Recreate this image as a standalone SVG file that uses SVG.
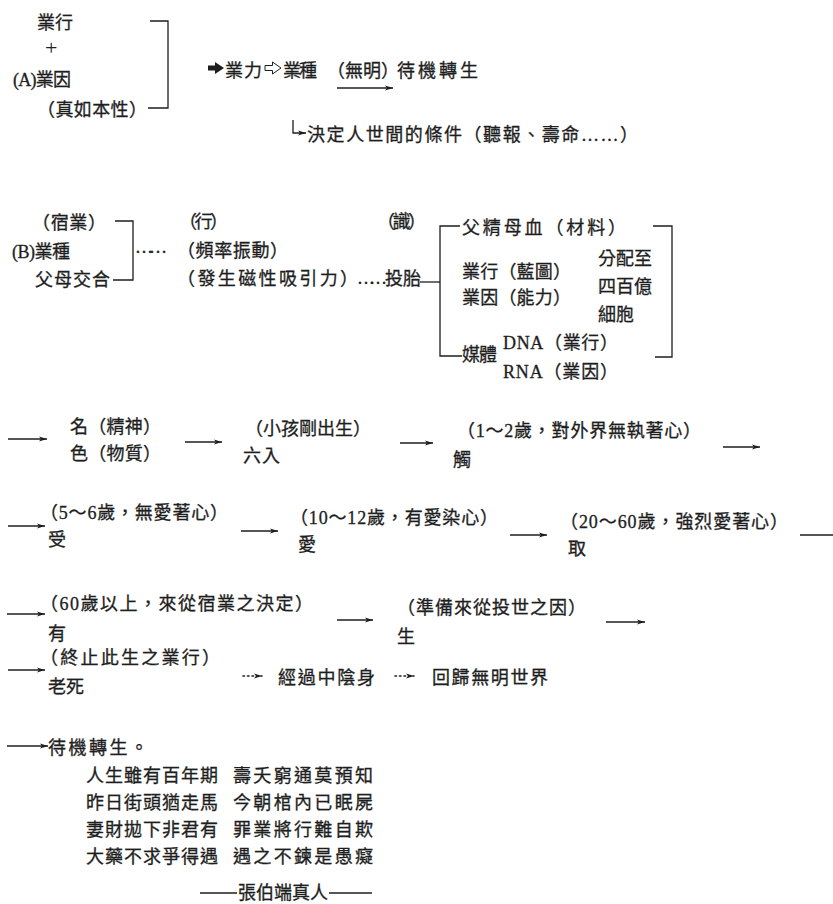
<svg xmlns="http://www.w3.org/2000/svg" width="833" height="904" viewBox="0 0 833 904">
<style>
.t{font-family:"Liberation Serif","Noto Sans CJK TC",serif;font-size:18px;fill:#1e1e1e;stroke:#1e1e1e;stroke-width:0.3}
.ln{fill:none;stroke:#1e1e1e;stroke-width:1.3}
.ar{fill:none;stroke:#1e1e1e;stroke-width:1.3;marker-end:url(#ah)}
.dt{fill:none;stroke:#1e1e1e;stroke-width:1.6;stroke-dasharray:1.5 3;stroke-linecap:round;marker-end:url(#ah)}
</style>
<defs>
<marker id="ah" markerWidth="9" markerHeight="8" refX="8" refY="4" orient="auto" markerUnits="userSpaceOnUse">
<path d="M0,1.5 L8,4 L0,6.5 L2,4 Z" fill="#1e1e1e"/>
</marker>
</defs>
<rect width="833" height="904" fill="#ffffff"/>

<g id="connectors">
<path class="ln" d="M150,21 H168 V108 H148"/>
<polygon points="208,65.5 215,65.5 215,62 224,68 215,74 215,70.5 208,70.5" fill="#1e1e1e"/>
<polygon points="265,65.5 272.5,65.5 272.5,62 281,68 272.5,74 272.5,70.5 265,70.5" fill="#fff" stroke="#1e1e1e" stroke-width="1"/>
<path class="ar" d="M337,88 H393"/>
<path class="ar" d="M293,120 V133 H306"/>
<path class="ln" d="M115,221 H133 V280 H113"/>
<path class="ln" d="M420,282 H440"/>
<path class="ln" d="M460,226 H440 V356 H462"/>
<path class="ln" d="M653,226 H672 V357 H655"/>
<path class="ar" d="M8,439 H47"/>
<path class="ar" d="M185,442 H222"/>
<path class="ar" d="M400,443 H433"/>
<path class="ar" d="M723,447 H760"/>
<path class="ar" d="M8,526 H45"/>
<path class="ar" d="M241,531 H278"/>
<path class="ar" d="M510,535 H547"/>
<path class="ln" d="M800,535 H833"/>
<path class="ar" d="M7,614 H45"/>
<path class="ar" d="M337,620 H373"/>
<path class="ar" d="M606,622 H645"/>
<path class="ar" d="M8,670 H45"/>
<path class="dt" d="M243,676 H262"/>
<path class="dt" d="M395,676 H414"/>
<path class="ar" d="M7,746 H48"/>
<path class="ln" d="M200,893 H237"/>
<path class="ln" d="M329,893 H372"/>
</g>

<g id="nodeA">
<text class="t" x="37" y="29" textLength="36">業行</text>
<text class="t" x="45" y="55" style="font-size:22px;stroke-width:0">+</text>
<text class="t" x="13" y="86" textLength="58">(A)業因</text>
<text class="t" x="37" y="116" textLength="110">（真如本性）</text>
</g>
<g id="yeli">
<text class="t" x="225" y="77" textLength="37">業力</text>
<text class="t" x="283" y="77" textLength="34">業種</text>
<text class="t" x="327" y="77" textLength="72">（無明）</text>
<text class="t" x="397" y="77" textLength="81">待機轉生</text>
</g>
<g id="jueding">
<text class="t" x="307" y="141" textLength="331">決定人世間的條件（聽報、壽命……）</text>
</g>

<g id="nodeB">
<text class="t" x="32" y="229" textLength="74">（宿業）</text>
<text class="t" x="12" y="258" textLength="58">(B)業種</text>
<text class="t" x="35" y="286" textLength="75">父母交合</text>
<text class="t" x="135" y="253" textLength="32">……</text>
</g>
<g id="xing">
<text class="t" x="179" y="228" textLength="49">（行）</text>
<text class="t" x="177" y="257" textLength="111">（頻率振動）</text>
<text class="t" x="177" y="285" textLength="181">（發生磁性吸引力）</text>
<text class="t" x="357" y="284" textLength="30">……</text>
</g>
<g id="toutai">
<text class="t" x="377" y="228" textLength="49">（識）</text>
<text class="t" x="385" y="285" textLength="36">投胎</text>
</g>
<g id="fujing">
<text class="t" x="462" y="234" textLength="164">父精母血（材料）</text>
<text class="t" x="462" y="278" textLength="109">業行（藍圖）</text>
<text class="t" x="462" y="304" textLength="109">業因（能力）</text>
<text class="t" x="462" y="361" textLength="35">媒體</text>
<text class="t" x="503" y="349" textLength="115">DNA（業行）</text>
<text class="t" x="503" y="378" textLength="115">RNA（業因）</text>
</g>
<g id="fenpei">
<text class="t" x="598" y="265" textLength="54">分配至</text>
<text class="t" x="598" y="293" textLength="54">四百億</text>
<text class="t" x="598" y="321" textLength="36">細胞</text>
</g>

<g id="mingse">
<text class="t" x="70" y="433" textLength="91">名（精神）</text>
<text class="t" x="70" y="460" textLength="91">色（物質）</text>
</g>
<g id="liuru">
<text class="t" x="245" y="435" textLength="126">（小孩剛出生）</text>
<text class="t" x="243" y="462" textLength="37">六入</text>
</g>
<g id="chu">
<text class="t" x="457" y="437" textLength="244">（1～2歲，對外界無執著心）</text>
<text class="t" x="453" y="466">觸</text>
</g>
<g id="shou">
<text class="t" x="40" y="519" textLength="188">（5～6歲，無愛著心）</text>
<text class="t" x="48" y="546">受</text>
</g>
<g id="ai">
<text class="t" x="290" y="524" textLength="208">（10～12歲，有愛染心）</text>
<text class="t" x="298" y="551">愛</text>
</g>
<g id="qu">
<text class="t" x="560" y="528" textLength="228">（20～60歲，強烈愛著心）</text>
<text class="t" x="568" y="555">取</text>
</g>
<g id="you">
<text class="t" x="40" y="610" textLength="273">（60歲以上，來從宿業之決定）</text>
<text class="t" x="48" y="640">有</text>
</g>
<g id="sheng">
<text class="t" x="397" y="614" textLength="189">（準備來從投世之因）</text>
<text class="t" x="397" y="643">生</text>
</g>
<g id="laosi">
<text class="t" x="40" y="664" textLength="180">（終止此生之業行）</text>
<text class="t" x="48" y="693" textLength="36">老死</text>
</g>
<g id="zhongyin">
<text class="t" x="278" y="684" textLength="97">經過中陰身</text>
</g>
<g id="huigui">
<text class="t" x="432" y="684" textLength="116">回歸無明世界</text>
</g>
<g id="daiji">
<text class="t" x="48" y="754" textLength="100">待機轉生。</text>
</g>
<g id="poem">
<text class="t" x="86" y="782" textLength="132">人生雖有百年期</text>
<text class="t" x="233" y="782" textLength="140">壽夭窮通莫預知</text>
<text class="t" x="86" y="809" textLength="132">昨日街頭猶走馬</text>
<text class="t" x="233" y="809" textLength="140">今朝棺內已眠屍</text>
<text class="t" x="86" y="836" textLength="132">妻財拋下非君有</text>
<text class="t" x="233" y="836" textLength="140">罪業將行難自欺</text>
<text class="t" x="86" y="863" textLength="132">大藥不求爭得遇</text>
<text class="t" x="233" y="863" textLength="140">遇之不鍊是愚癡</text>
<text class="t" x="238" y="899" textLength="90">張伯端真人</text>
</g>
</svg>
